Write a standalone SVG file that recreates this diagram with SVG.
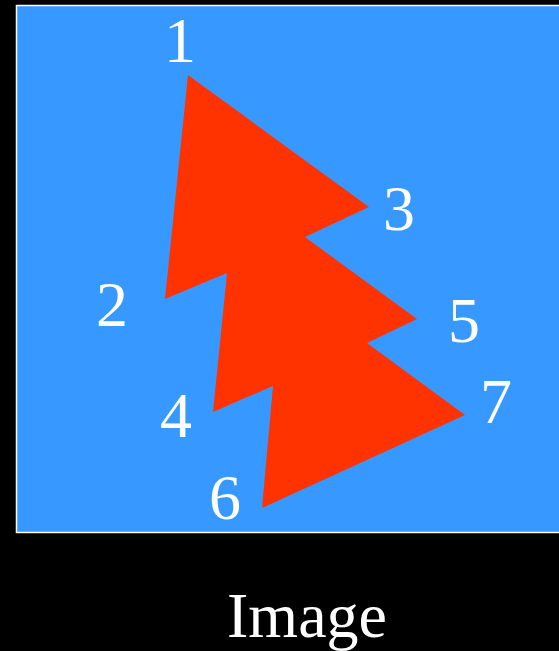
<svg xmlns="http://www.w3.org/2000/svg" width="559" height="651" viewBox="0 0 559 651">
<style>
.lbl{font-family:"Liberation Serif","Times New Roman",serif;fill:#ffffff;text-anchor:middle}
.num{font-size:64px}
.cap{font-size:64px}
</style>
<rect x="0" y="0" width="559" height="651" fill="#000000"/>
<rect id="frame" x="16.5" y="5.5" width="560" height="527" fill="#3799ff" stroke="#ffffff" stroke-width="1.5"/>
<polygon id="shape" fill="#ff3300" points="188,75 369,207 305,237 417,319 367,343 465,415 262,508 273,386 213,412 227,273 165,299"/>
<g id="labels">
<text class="lbl num" x="180" y="62">1</text>
<text class="lbl num" x="112" y="326">2</text>
<text class="lbl num" x="399" y="230">3</text>
<text class="lbl num" x="176" y="437">4</text>
<text class="lbl num" x="464" y="342">5</text>
<text class="lbl num" x="225" y="519">6</text>
<text class="lbl num" x="496" y="423">7</text>
</g>
<text class="lbl cap" x="307" y="637">Image</text>
</svg>
